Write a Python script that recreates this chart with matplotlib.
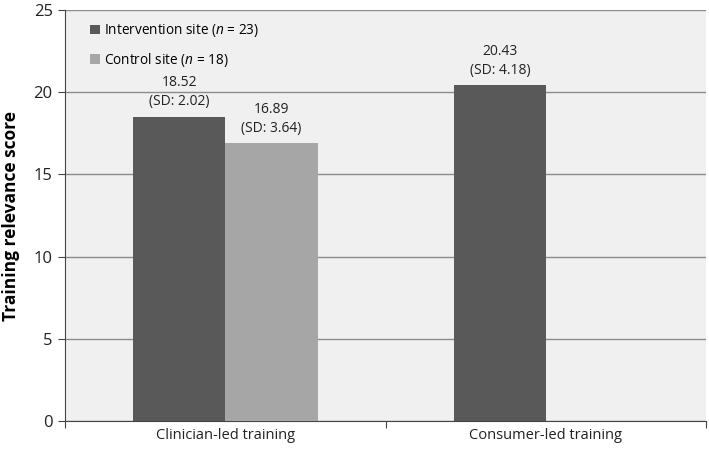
import numpy as np
import matplotlib
matplotlib.use("Agg")
import matplotlib.pyplot as plt

plt.rcParams['font.family'] = ['Open Sans', 'DejaVu Sans']
plt.rcParams['mathtext.fontset'] = 'custom'
plt.rcParams['mathtext.it'] = 'Open Sans:italic'
plt.rcParams['mathtext.rm'] = 'Open Sans'

# data
categories = ["Clinician-led training", "Consumer-led training"]
intervention = [18.52, 20.43]
intervention_sd = [2.02, 4.18]
control = [16.89]
control_sd = [3.64]
yticks = [0, 5, 10, 15, 20, 25]

DARK = "#595959"
LIGHT = "#a6a6a6"
GRID = "#8c8c8c"

fig = plt.figure(figsize=(7.09, 4.5), dpi=100)
ax = fig.add_axes([0.092, 0.064, 0.904, 0.914])
ax.set_facecolor("#f0f0f0")

x = np.arange(len(categories))
w = 0.2875

b1 = ax.bar(x - w / 2, intervention, w, color=DARK, zorder=3,
            label="Intervention site ($n$ = 23)")
b2 = ax.bar(x[:1] + w / 2, control, w, color=LIGHT, zorder=3,
            label="Control site ($n$ = 18)")

for rect, v, sd in zip(b1, intervention, intervention_sd):
    ax.text(rect.get_x() + rect.get_width() / 2, v + 0.45, f"{v:.2f}\n(SD: {sd:.2f})",
            ha="center", va="bottom", fontsize=10, linespacing=1.35, color="#222222")
for rect, v, sd in zip(b2, control, control_sd):
    ax.text(rect.get_x() + rect.get_width() / 2, v + 0.45, f"{v:.2f}\n(SD: {sd:.2f})",
            ha="center", va="bottom", fontsize=10, linespacing=1.35, color="#222222")

ax.set_xlim(-0.5, 1.5)
ax.set_ylim(0, 25)
ax.set_yticks(yticks)
ax.yaxis.grid(True, color=GRID, linewidth=1, zorder=1)
ax.set_axisbelow(True)

ax.set_xticks([-0.5, 0.5, 1.5])
ax.set_xticklabels([])
ax.set_xticks(x, minor=True)
ax.set_xticklabels(categories, minor=True)
ax.tick_params(axis="x", which="minor", length=0, pad=5, labelsize=10.5, labelcolor="#222222")
ax.tick_params(axis="x", which="major", length=5, direction="out", color="#444444")
ax.tick_params(axis="y", length=5, direction="out", color="#444444", labelsize=12,
               pad=4, labelcolor="#222222")

for s in ["top", "right"]:
    ax.spines[s].set_visible(False)
ax.spines["left"].set_color("#444444")
ax.spines["bottom"].set_color("#444444")

ax.set_ylabel("Training relevance score", fontsize=12.5, fontweight="bold", labelpad=10)

ax.legend(loc="upper left", bbox_to_anchor=(0.02, 1.0), frameon=False, fontsize=9.8,
          handlelength=0.7, handleheight=0.7, handletextpad=0.3, labelspacing=0.85)

fig.savefig("out.png", dpi=100)
